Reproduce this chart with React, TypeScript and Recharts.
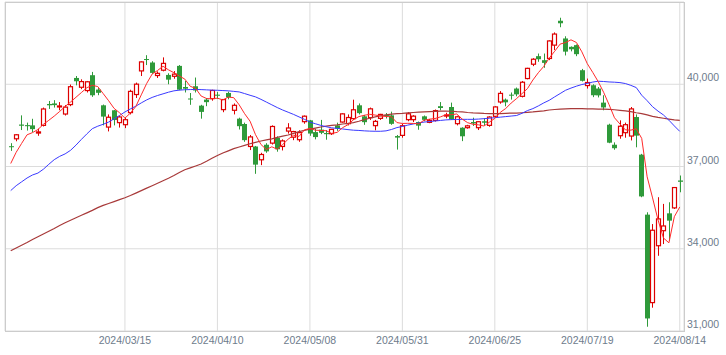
import React from 'react'
import { Bar, CartesianGrid, ComposedChart, Line, XAxis, YAxis } from 'recharts'

// trading days (2024)
const days = [
  '02/14', '02/15', '02/16', '02/19', '02/20', '02/21', '02/22', '02/26', '02/27', '02/28', '02/29',
  '03/01', '03/04', '03/05', '03/06', '03/07', '03/08', '03/11', '03/12', '03/13', '03/14', '03/15',
  '03/18', '03/19', '03/21', '03/22', '03/25', '03/26', '03/27', '03/28', '03/29',
  '04/01', '04/02', '04/03', '04/04', '04/05', '04/08', '04/09', '04/10', '04/11', '04/12', '04/15',
  '04/16', '04/17', '04/18', '04/19', '04/22', '04/23', '04/24', '04/25', '04/26', '04/30',
  '05/01', '05/02', '05/07', '05/08', '05/09', '05/10', '05/13', '05/14', '05/15', '05/16', '05/17',
  '05/20', '05/21', '05/22', '05/23', '05/24', '05/27', '05/28', '05/29', '05/30', '05/31',
  '06/03', '06/04', '06/05', '06/06', '06/07', '06/10', '06/11', '06/12', '06/13', '06/14',
  '06/17', '06/18', '06/19', '06/20', '06/21', '06/24', '06/25', '06/26', '06/27', '06/28',
  '07/01', '07/02', '07/03', '07/04', '07/05', '07/08', '07/09', '07/10', '07/11', '07/12',
  '07/16', '07/17', '07/18', '07/19', '07/22', '07/23', '07/24', '07/25', '07/26', '07/29', '07/30', '07/31',
  '08/01', '08/02', '08/05', '08/06', '08/07', '08/08', '08/09', '08/13', '08/14',
]

const opens = [
  37740, 38010, 38530, 38510, 38500, 38220, 38500, 39280, 39300, 39180, 38914,
  39257, 40230, 39890, 39770, 40330, 39806, 39232, 38438, 39050, 38600, 38525,
  38965, 39625, 40487, 40920, 40793, 40318, 40512, 40340, 40290,
  40670, 39900, 39480, 39927, 39220, 39440, 39477, 39620, 39074, 39682, 39050,
  38745, 38550, 37730, 37730, 37245, 37794, 37852, 38050, 37730, 38292,
  38070, 37977, 38635, 38683, 38255, 38343, 38220, 38196, 38500, 38622, 38562,
  38745, 39232, 38830, 38782, 38490, 38756, 38880, 38866, 38110, 38135,
  38708, 38708, 38622, 38830, 38610, 38683, 39200, 38850, 39170, 38562,
  38415, 38415, 38622, 38415, 38650, 38500, 38830, 39353, 39440, 39620,
  39843, 39560, 40208, 40731, 41025, 40878, 40940, 41427, 42316, 41670,
  41365, 41427, 40512, 39952, 39963, 39843, 39330, 38525, 37794, 38123, 38233, 38111,
  38804, 37433, 35244, 32035, 34110, 34658, 35292, 35490, 36490,
]

const highs = [
  37850, 38180, 38865, 38600, 38740, 38380, 39150, 39390, 39420, 39350, 39240,
  39990, 40300, 40180, 40120, 40450, 39860, 39260, 38900, 39060, 38850, 38780,
  39800, 40060, 40830, 41060, 40840, 40470, 40980, 40400, 40480,
  40700, 40120, 39680, 40245, 39250, 39500, 39800, 39720, 39460, 39730, 39300,
  38780, 38600, 38150, 37750, 37500, 37850, 38500, 38100, 37990, 38580,
  38300, 38320, 38860, 38700, 38380, 38700, 38330, 38370, 38600, 38940, 38900,
  39437, 39300, 38880, 39150, 38700, 38920, 38950, 39000, 38150, 38560,
  38980, 38870, 38640, 38860, 38730, 39080, 39350, 38960, 39330, 38850,
  38430, 38520, 38780, 38640, 38760, 38830, 39200, 39750, 39480, 39700,
  39880, 40120, 40600, 40950, 41120, 41120, 41600, 41890, 42426, 41750,
  41380, 41450, 40560, 40208, 40000, 39900, 39598, 38560, 37880, 38683, 38600, 39170,
  38900, 37460, 35330, 34900, 35880, 35636, 35695, 36250, 36671,
]

const lows = [
  37570, 37920, 38330, 38310, 38250, 38120, 38460, 39100, 39150, 39050, 38860,
  39200, 39960, 39820, 39700, 39540, 39600, 38500, 38280, 38500, 38420, 38400,
  38900, 39500, 40300, 40700, 40380, 40230, 40470, 40000, 40200,
  39780, 39700, 39250, 39700, 38745, 39200, 39400, 39470, 38980, 39450, 38900,
  38350, 37900, 37600, 36733, 37050, 37500, 37800, 37540, 37585, 38200,
  37960, 37900, 38560, 38120, 37990, 38180, 37977, 38150, 38300, 38600, 38500,
  38700, 38900, 38520, 38700, 38320, 38700, 38750, 38520, 37617, 38050,
  38650, 38620, 38340, 38650, 38580, 38640, 39050, 38760, 38700, 38500,
  37925, 38380, 38480, 38330, 38500, 38450, 38780, 39290, 39195, 39440,
  39560, 39520, 40180, 40660, 40820, 40600, 40880, 41250, 42080, 41050,
  41200, 41024, 40100, 39843, 39530, 39520, 39050, 37850, 37611, 38013, 38050, 37951,
  37700, 35880, 31156, 31850, 33744, 34171, 34292, 35450, 36060,
]

const closes = [
  37703, 38157, 38487, 38470, 38363, 38262, 39098, 39233, 39239, 39208, 39166,
  39910, 40109, 40097, 40090, 39598, 39688, 38820, 38797, 38695, 38807, 38707,
  39740, 40003, 40815, 40888, 40414, 40398, 40762, 40168, 40369,
  39803, 39838, 39451, 39773, 38992, 39347, 39773, 39581, 39442, 39523, 39232,
  38471, 37961, 38079, 37068, 37438, 37552, 38460, 37628, 37934, 38405,
  38274, 38236, 38835, 38202, 38073, 38229, 38179, 38356, 38385, 38920, 38787,
  39069, 38946, 38617, 39103, 38646, 38900, 38855, 38556, 38054, 38487,
  38923, 38837, 38490, 38703, 38683, 39038, 39134, 38876, 38720, 38814,
  38102, 38482, 38570, 38633, 38596, 38804, 39173, 39667, 39341, 39583,
  39631, 40074, 40580, 40913, 40912, 40780, 41580, 41831, 42224, 41190,
  41275, 41097, 40126, 40063, 39599, 39594, 39154, 37869, 37667, 38468, 38525, 39101,
  38126, 35909, 31458, 34675, 35089, 34831, 35025, 36232, 36442,
]

// moving averages
const ma5 = [
  37109, 37517, 37841, 38156, 38236, 38348, 38536, 38685, 38839, 39008, 39189,
  39351, 39526, 39698, 39874, 39961, 39916, 39659, 39399, 39120, 38961, 38765,
  38949, 39190, 39614, 40031, 40372, 40504, 40655, 40526, 40422,
  40300, 40188, 39926, 39847, 39571, 39480, 39467, 39493, 39427, 39533, 39510,
  39250, 38926, 38653, 38162, 37803, 37620, 37719, 37629, 37802, 37996,
  38140, 38095, 38337, 38390, 38324, 38315, 38304, 38208, 38244, 38414, 38525,
  38703, 38821, 38868, 38904, 38876, 38842, 38824, 38812, 38602, 38570,
  38575, 38571, 38558, 38688, 38727, 38750, 38810, 38887, 38890, 38916,
  38729, 38599, 38538, 38520, 38477, 38617, 38755, 38975, 39116, 39314,
  39479, 39659, 39842, 40156, 40422, 40652, 40953, 41203, 41465, 41521,
  41620, 41523, 41182, 40750, 40432, 40096, 39707, 39256, 38777, 38550, 38337, 38326,
  38377, 38026, 36624, 35854, 35051, 34392, 34216, 35170, 35524,
]

const ma25 = [
  36122, 36300, 36440, 36580, 36690, 36760, 36900, 37080, 37250, 37370, 37460,
  37590, 37780, 37990, 38190, 38380, 38470, 38540, 38620, 38740, 38860, 38990,
  39100, 39200, 39320, 39430, 39520, 39590, 39650, 39710, 39760,
  39785, 39800, 39806, 39810, 39805, 39795, 39785, 39780, 39770, 39760, 39740,
  39720, 39660, 39598, 39540, 39450, 39350, 39250, 39150, 39060, 38980,
  38900, 38810, 38720, 38621, 38560, 38500, 38450, 38410, 38390, 38370, 38345,
  38325, 38315, 38300, 38290, 38285, 38285, 38300, 38350, 38420, 38460,
  38510, 38550, 38590, 38620, 38640, 38660, 38680, 38700, 38710, 38715,
  38720, 38720, 38720, 38730, 38745, 38760, 38780, 38800, 38820, 38840,
  38860, 38940, 39040, 39111, 39210, 39320, 39415, 39540, 39660, 39781,
  39860, 39930, 39990, 40030, 40080, 40110, 40100, 40084, 40075, 40060, 40026, 39960,
  39879, 39600, 39400, 39180, 39020, 38880, 38690, 38480, 38281,
]

const ma75 = [
  33930, 34030, 34130, 34230, 34340, 34440, 34540, 34640, 34740, 34850, 34950,
  35040, 35130, 35220, 35310, 35400, 35500, 35580, 35650, 35720, 35790, 35860,
  35940, 36030, 36120, 36210, 36300, 36390, 36480, 36570, 36670,
  36780, 36880, 36950, 37020, 37090, 37190, 37300, 37400, 37490, 37570, 37650,
  37710, 37770, 37830, 37880, 37930, 37970, 38010, 38060, 38110, 38150,
  38210, 38270, 38320, 38360, 38400, 38440, 38470, 38500, 38520, 38550, 38570,
  38600, 38650, 38710, 38760, 38810, 38850, 38880, 38910, 38930, 38940,
  38955, 38970, 38980, 38990, 39000, 39010, 39020, 39020, 39015, 39000,
  38990, 38970, 38955, 38945, 38935, 38930, 38928, 38930, 38940, 38950,
  38945, 38960, 38975, 38990, 39010, 39030, 39060, 39080, 39095, 39105,
  39110, 39111, 39110, 39105, 39100, 39095, 39090, 39085, 39070, 39050, 39030, 39000,
  38960, 38928, 38880, 38830, 38790, 38760, 38730, 38700, 38683,
]

const yTicks = [31000, 34000, 37000, 40000]
const xTicks = ['2024/03/15', '2024/04/10', '2024/05/08', '2024/05/31', '2024/06/25', '2024/07/19', '2024/08/14']

const UP = '#dd0000'
const DOWN = '#2f9a3a'
const FONT = '"Liberation Sans", Arial, sans-serif'

const data = days.map((d, i) => ({
  date: '2024/' + d,
  open: opens[i],
  high: highs[i],
  low: lows[i],
  close: closes[i],
  range: [lows[i], highs[i]],
  ma5: ma5[i],
  ma25: ma25[i],
  ma75: ma75[i],
}))

const Candle = (props: any) => {
  const { x, y, width, height, payload } = props
  const { open, close, high, low } = payload
  const cx = Math.round(x + width / 2) + 0.5
  const k = high === low ? 0 : height / (high - low)
  const yO = y + (high - open) * k
  const yC = y + (high - close) * k
  const top = Math.min(yO, yC)
  const h = Math.max(Math.abs(yO - yC), 1)
  if (close >= open) {
    return (
      <g>
        <line x1={cx} x2={cx} y1={y} y2={y + height} stroke={UP} strokeWidth={1} />
        <rect x={cx - 2} y={top} width={4} height={h} fill="#fff" stroke={UP} strokeWidth={1.2} />
      </g>
    )
  }
  return (
    <g>
      <line x1={cx} x2={cx} y1={y} y2={y + height} stroke={DOWN} strokeWidth={1} />
      <rect x={cx - 2.5} y={top} width={5} height={h} fill={DOWN} />
    </g>
  )
}

const XTick = (p: any) => (
  <text x={p.x} y={p.y + 12.5} textAnchor="middle" fontSize={10.5} fontFamily={FONT} fill="#6e7c8c">
    {p.payload.value}
  </text>
)

const YTick = (p: any) => (
  <text x={p.x + 3} y={p.y - 3} textAnchor="start" fontSize={10.5} fontFamily={FONT} fill="#6e7c8c">
    {Number(p.payload.value).toLocaleString('en-US')}
  </text>
)

export default function App() {
  return (
    <div style={{ position: 'absolute', left: 0, top: 0, width: 726, height: 355, background: '#fff' }}>
      <ComposedChart width={726} height={355} data={data} margin={{ top: 2, right: 0, left: 5, bottom: 0 }}>
        <CartesianGrid stroke="#dcdcdc" />
        <XAxis
          dataKey="date"
          ticks={xTicks}
          interval={0}
          padding={{ left: 3, right: 1.5 }}
          axisLine={false}
          tickLine={false}
          tickSize={0}
          tickMargin={0}
          height={24}
          tick={<XTick />}
        />
        <YAxis
          orientation="right"
          type="number"
          domain={[31000, 43000]}
          ticks={yTicks}
          allowDataOverflow
          axisLine={false}
          tickLine={false}
          tickSize={0}
          tickMargin={0}
          width={42}
          tick={<YTick />}
        />
        <Bar dataKey="range" barSize={5} shape={<Candle />} isAnimationActive={false} />
        <Line type="linear" dataKey="ma75" stroke="#a83a3a" strokeWidth={1.2} dot={false} isAnimationActive={false} />
        <Line type="linear" dataKey="ma25" stroke="#3a3aff" strokeWidth={1} dot={false} isAnimationActive={false} />
        <Line type="linear" dataKey="ma5" stroke="#ff2a2a" strokeWidth={1} dot={false} isAnimationActive={false} />
      </ComposedChart>
      <div
        style={{
          position: 'absolute',
          left: 5,
          top: 2,
          width: 680,
          height: 330,
          border: '1px solid #cccccc',
          boxSizing: 'border-box',
          pointerEvents: 'none',
        }}
      />
    </div>
  )
}
